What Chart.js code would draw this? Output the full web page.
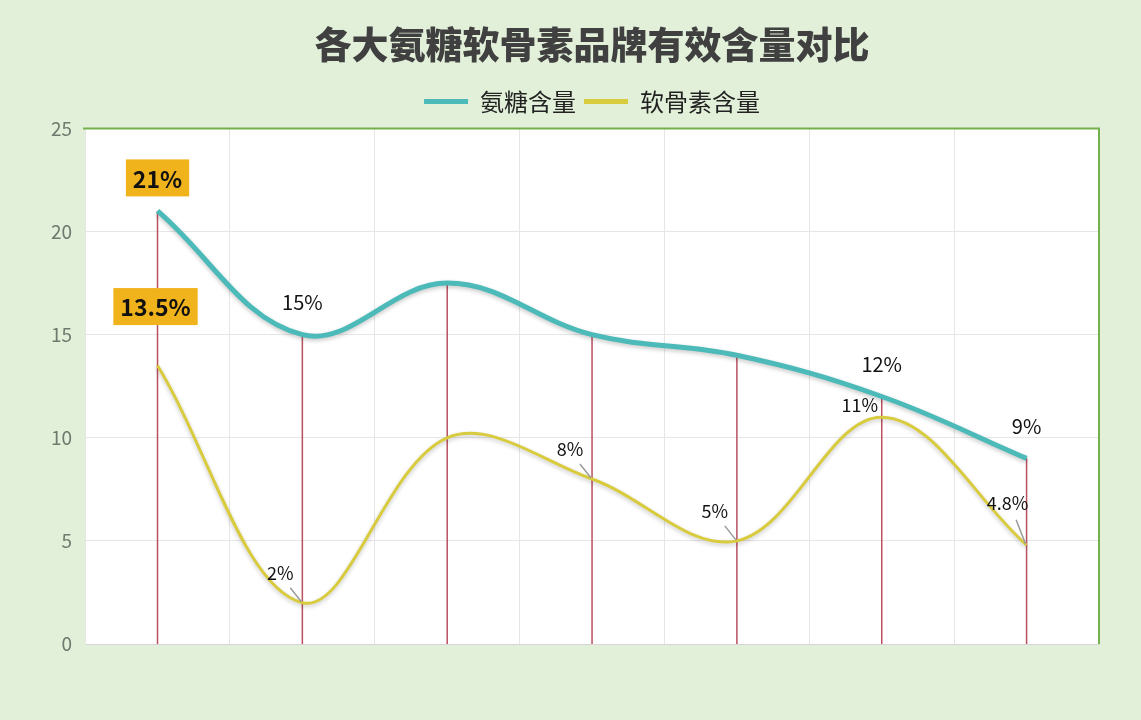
<!DOCTYPE html>
<html><head><meta charset="utf-8">
<script src="https://cdn.jsdelivr.net/npm/chart.js@4/dist/chart.umd.min.js"></script>
<style>html,body{margin:0;padding:0;background:#e2f0d9;}#wrap{width:1141px;height:720px;position:relative;}</style>
</head><body><div id="wrap"><canvas id="c"></canvas></div>
<script>
const titleText = '各大氨糖软骨素品牌有效含量对比';
const seriesNames = ['氨糖含量', '软骨素含量'];
const categories = ['品牌1', '品牌2', '品牌3', '品牌4', '品牌5', '品牌6', '品牌7'];
const glucosamine = [21, 15, 17.5, 15, 14, 12, 9];
const chondroitin = [13.5, 2, 10, 8, 5, 11, 4.8];
const glucosamineLabels = ['21%', '15%', '', '', '', '12%', '9%'];
const chondroitinLabels = ['13.5%', '2%', '', '8%', '5%', '11%', '4.8%'];
const yMin = 0, yMax = 25, yStep = 5;

const FONT = '"Noto Sans CJK SC", "Noto Sans", sans-serif';

const plotDeco = {
  id: 'plotDeco',
  beforeDraw(chart) {
    const {ctx, chartArea: a} = chart;
    ctx.save();
    ctx.fillStyle = '#ffffff';
    ctx.fillRect(a.left, a.top, a.right - a.left, a.bottom - a.top);
    ctx.restore();
  },
  beforeDatasetsDraw(chart) {
    const {ctx, chartArea: a} = chart;
    ctx.save();
    ctx.strokeStyle = '#74b04c';
    ctx.lineWidth = 2;
    ctx.beginPath();
    ctx.moveTo(a.left - 2, a.top);
    ctx.lineTo(a.right, a.top);
    ctx.lineTo(a.right, a.bottom);
    ctx.stroke();
    const meta = chart.getDatasetMeta(0);
    ctx.strokeStyle = '#b9505e';
    ctx.lineWidth = 1.5;
    meta.data.forEach(p => {
      ctx.beginPath();
      ctx.moveTo(p.x, p.y);
      ctx.lineTo(p.x, a.bottom);
      ctx.stroke();
    });
    ctx.restore();
  },
  beforeDatasetDraw(chart) {
    const ctx = chart.ctx;
    ctx.save();
    ctx.shadowColor = 'rgba(0,0,0,0.22)';
    ctx.shadowBlur = 4;
    ctx.shadowOffsetY = 2;
  },
  afterDatasetDraw(chart) {
    chart.ctx.restore();
  },
  afterDatasetsDraw(chart) {
    const ctx = chart.ctx;
    const sets = [glucosamineLabels, chondroitinLabels];
    ctx.save();
    ctx.textAlign = 'center';
    ctx.textBaseline = 'middle';
    sets.forEach((labels, di) => {
      const meta = chart.getDatasetMeta(di);
      meta.data.forEach((p, i) => {
        const t = labels[i];
        if (!t) return;
        if (i === 0) {
          ctx.font = 'bold 23px ' + FONT;
          const w = ctx.measureText(t).width + 14;
          const h = 37;
          const cx = p.x - (di === 0 ? 0 : 2), cy = di === 0 ? p.y - 33 : p.y - 59;
          ctx.fillStyle = '#f0b31c';
          ctx.fillRect(cx - w / 2, cy - h / 2, w, h);
          ctx.fillStyle = '#111111';
          ctx.fillText(t, cx, cy + 1);
        } else if (di === 0) {
          ctx.font = '20px ' + FONT;
          ctx.fillStyle = '#111111';
          ctx.fillText(t, p.x, p.y - 32);
        } else {
          const last = i === meta.data.length - 1;
          const dx = last ? -19 : -22, dy = i === 5 ? -12 : (last ? -42 : -30);
          ctx.strokeStyle = '#9a9a9a';
          ctx.lineWidth = 1.5;
          if (i !== 5) {
            ctx.beginPath();
            ctx.moveTo(p.x - 1, p.y - 1);
            ctx.lineTo(p.x + dx * 0.55, p.y + dy * (last ? 0.6 : 0.5));
            ctx.stroke();
          }
          ctx.font = '18px ' + FONT;
          ctx.fillStyle = '#111111';
          ctx.fillText(t, p.x + dx, p.y + dy);
        }
      });
    });
    ctx.restore();
  }
};

new Chart(document.getElementById('c'), {
  type: 'line',
  data: {
    labels: categories,
    datasets: [
      {label: seriesNames[0], data: glucosamine, borderColor: '#4bbab8', backgroundColor: '#4bbab8', borderWidth: 5, tension: 0.38, pointRadius: 0, fill: false},
      {label: seriesNames[1], data: chondroitin, borderColor: '#d8cb3e', backgroundColor: '#d8cb3e', borderWidth: 3, tension: 0.36, pointRadius: 0, fill: false}
    ]
  },
  options: {
    responsive: true,
    maintainAspectRatio: false,
    animation: false,
    devicePixelRatio: 1,
    layout: {padding: {left: 38, right: 42, top: 0, bottom: 76}},
    plugins: {
      title: {display: true, text: titleText, fullSize: false, color: '#404040',
        font: {family: FONT, size: 37, weight: 900}, padding: {top: 23, bottom: 14}},
      legend: {display: true, fullSize: false,
        labels: {color: '#222222', font: {family: FONT, size: 24}, boxWidth: 44, boxHeight: 5, padding: 8,
          generateLabels(chart) {
            const items = Chart.defaults.plugins.legend.labels.generateLabels(chart);
            items.forEach(it => { it.lineWidth = 0; });
            return items;
          }}},
      tooltip: {enabled: false}
    },
    scales: {
      x: {
        offset: true,
        grid: {display: true, offset: true, color: '#e6e6e6', drawTicks: false},
        border: {display: true, color: '#d6d6d6'},
        ticks: {display: false}
      },
      xTop: {
        type: 'category',
        axis: 'x',
        position: 'top',
        offset: true,
        grid: {display: false, drawTicks: false},
        border: {display: false},
        ticks: {display: false},
        afterFit(scale) { scale.height = 5; }
      },
      y: {
        min: yMin, max: yMax,
        grid: {color: '#e6e6e6', drawTicks: false},
        border: {display: true, color: '#e6e6e6'},
        ticks: {stepSize: yStep, color: '#6f7a6f', padding: 13, font: {family: FONT, size: 19}}
      }
    }
  },
  plugins: [plotDeco]
});
</script></body></html>
